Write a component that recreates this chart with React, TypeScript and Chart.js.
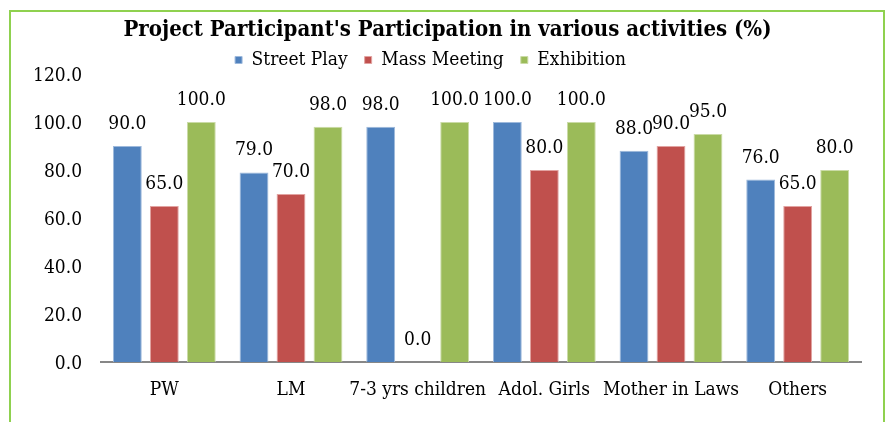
import React, { useEffect, useRef } from "react";
import { Chart, registerables } from "chart.js";

Chart.register(...registerables);

const categories = ["PW", "LM", "7-3 yrs children", "Adol. Girls", "Mother in Laws", "Others"];
const streetPlay = [90, 79, 98, 100, 88, 76];
const massMeeting = [65, 70, 0, 80, 90, 65];
const exhibition = [100, 98, 100, 100, 95, 80];
const yTicks = [0, 20, 40, 60, 80, 100, 120];

const SERIF = "'DejaVu Serif Condensed', 'Liberation Serif', serif";

const valueLabels = {
  id: "valueLabels",
  afterDatasetsDraw(chart: any) {
    const ctx = chart.ctx;
    ctx.save();
    ctx.font = `19px ${SERIF}`;
    ctx.fillStyle = "#000";
    ctx.textAlign = "center";
    ctx.textBaseline = "middle";
    chart.data.datasets.forEach((ds: any, i: number) => {
      const meta = chart.getDatasetMeta(i);
      meta.data.forEach((bar: any, j: number) => {
        const v = ds.data[j];
        ctx.fillText(Number(v).toFixed(1), bar.x, bar.y - 22);
      });
    });
    ctx.restore();
  },
};

const shiftTitle = {
  id: "shiftTitle",
  afterLayout(chart: any) {
    const t = chart.titleBlock;
    if (t) {
      t.left += 17;
      t.right += 17;
    }
  },
};

export default function App() {
  const ref = useRef<HTMLCanvasElement>(null);
  useEffect(() => {
    if (!ref.current) return;
    const chart = new Chart(ref.current, {
      type: "bar",
      data: {
        labels: categories,
        datasets: [
          { label: "Street Play", data: streetPlay, backgroundColor: "#4F81BD", borderColor: "#9DB9DC", borderWidth: 1 },
          { label: "Mass Meeting", data: massMeeting, backgroundColor: "#C0504D", borderColor: "#E2A3A1", borderWidth: 1 },
          { label: "Exhibition", data: exhibition, backgroundColor: "#9BBB59", borderColor: "#CADBA6", borderWidth: 1 },
        ],
      },
      options: {
        responsive: false,
        animation: false,
        devicePixelRatio: 1,
        layout: { padding: { top: 0, left: 0, right: 29, bottom: 0 } },
        datasets: { bar: { categoryPercentage: 0.876, barPercentage: 0.78 } },
        plugins: {
          title: {
            display: true,
            text: "Project Participant's Participation in various activities (%)",
            color: "#000",
            font: { family: SERIF, size: 22, weight: "bold", lineHeight: 1 },
            padding: { top: 19, bottom: -7.5 },
          },
          legend: {
            display: true,
            position: "top",
            maxHeight: 40.5,
            labels: {
              color: "#000",
              font: { family: SERIF, size: 19 },
              boxWidth: 7,
              boxHeight: 7,
              padding: 17,
            },
          },
          tooltip: { enabled: false },
        },
        scales: {
          x: {
            grid: { display: false, drawTicks: false },
            border: { display: true, color: "#878787", width: 2 },
            ticks: { color: "#000", font: { family: SERIF, size: 19 }, padding: 17, maxRotation: 0, autoSkip: false },
            afterFit: (s: any) => { s.height = 60; },
          },
          y: {
            min: 0,
            max: 120,
            afterBuildTicks: (s: any) => { s.ticks = yTicks.map((v) => ({ value: v })); },
            grid: { display: false, drawTicks: false },
            border: { display: false },
            ticks: {
              color: "#000",
              font: { family: SERIF, size: 19 },
              padding: 19,
              labelOffset: 2,
              callback: (v: any) => Number(v).toFixed(1),
            },
            afterFit: (s: any) => { s.width = 101; },
          },
        },
      },
      plugins: [valueLabels, shiftTitle],
    });
    return () => chart.destroy();
  }, []);
  return (
    <div style={{ position: "fixed", left: 0, top: 0, width: 890, height: 422, background: "#fff" }}>
      <canvas ref={ref} width={890} height={422} style={{ display: "block" }} />
      <div
        style={{
          position: "absolute",
          left: 9,
          top: 10,
          width: 876,
          height: 440,
          border: "2px solid #8FD14F",
          boxSizing: "border-box",
          pointerEvents: "none",
        }}
      />
    </div>
  );
}
